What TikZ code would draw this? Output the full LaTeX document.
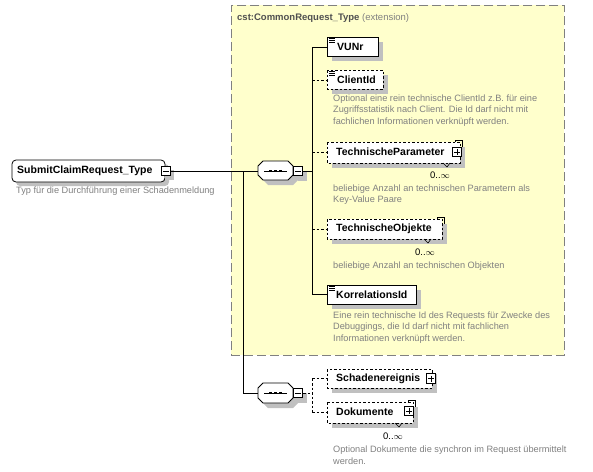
\documentclass[tikz,border=0pt]{standalone}
\usepackage{fontspec}
\setmainfont{Liberation Sans}
\usetikzlibrary{shadows,calc}
\definecolor{boxyellow}{RGB}{255,255,204}
\definecolor{descgray}{RGB}{128,128,128}
\definecolor{framegray}{RGB}{128,128,128}
\definecolor{shadowgray}{RGB}{192,192,192}
\tikzset{
  shd/.style={fill=shadowgray,draw=none},
  elem/.style={draw=black,fill=white,line width=0.8pt,inner sep=0pt},
  optelem/.style={elem,dashed,dash pattern=on 2.5pt off 2pt},
  lbl/.style={font=\fontsize{10.5}{12}\selectfont\bfseries,anchor=west,inner sep=0pt},
  desc/.style={font=\fontsize{9.2}{11.6}\selectfont,text=descgray,anchor=north west,align=left,inner sep=0pt},
  mult/.style={font=\fontsize{9.5}{11}\selectfont,inner sep=0pt},
  pm/.style={draw=black,fill=white,line width=0.8pt,minimum size=9.5pt,inner sep=0pt},
  conn/.style={line width=0.8pt},
  dconn/.style={line width=0.8pt,dash pattern=on 2.5pt off 2pt},
}
\newcommand{\pluss}[1]{\draw[line width=0.7pt] ($(#1)+(-3,0)$) -- ($(#1)+(3,0)$) ($(#1)+(0,-3)$) -- ($(#1)+(0,3)$);}
\begin{document}
\begin{tikzpicture}[x=1pt,y=-1pt]
\useasboundingbox (0,0) rectangle (593,471);
% extension frame
\node[draw=framegray,fill=boxyellow,line width=0.8pt,dash pattern=on 9pt off 4pt,minimum width=333pt,minimum height=350pt,anchor=north west,inner sep=0pt] (ext) at (231,5) {};
\node[anchor=west,inner sep=0pt,font=\fontsize{9.5}{11}\selectfont] (exttitle) at (237,18) {\textcolor[RGB]{80,80,80}{\bfseries cst:CommonRequest\_Type} \textcolor{descgray}{(extension)}};

% main node
\fill[shd,rounded corners=4pt] (16,164) rectangle (169,186);
\draw[fill=white,line width=0.8pt,rounded corners=4pt] (12,160) rectangle (165,182);
\node[lbl] (main) at (17,171) {SubmitClaimRequest\_Type};
\fill[shd] (165,170) rectangle (174,180);
\node[pm] (mminus) at (166,171) {};
\draw[line width=0.7pt] (163,171) -- (169,171);
\node[desc] (maindesc) at (16,187) {Typ für die Durchführung einer Schadenmeldung};

% sequence 1
\fill[shd] (268,166) -- (293,166) -- (298,171) -- (298,180) -- (293,185) -- (268,185) -- (263,180) -- (263,171) -- cycle;
\draw[fill=white,line width=0.8pt] (263,161) -- (288,161) -- (293,166) -- (293,175) -- (288,180) -- (263,180) -- (258,175) -- (258,166) -- cycle;
\coordinate (seq1) at (258,171);
\draw[line width=0.9pt] (264,171) -- (287,171);
\foreach \dx in {270.5,275.5,280.5} {\fill (\dx-1.3,169.7) rectangle (\dx+1.3,172.3);}
\fill[shd] (298,171) rectangle (307,181);
\node[pm] (s1minus) at (298,171) {};
\draw[line width=0.7pt] (295,171) -- (301,171);

% sequence 2
\fill[shd] (268,388) -- (293,388) -- (298,393) -- (298,403) -- (293,408) -- (268,408) -- (263,403) -- (263,393) -- cycle;
\draw[fill=white,line width=0.8pt] (263,383) -- (288,383) -- (293,388) -- (293,398) -- (288,403) -- (263,403) -- (258,398) -- (258,388) -- cycle;
\coordinate (seq2) at (258,393);
\draw[line width=0.9pt] (264,393) -- (287,393);
\foreach \dx in {270.5,275.5,280.5} {\fill (\dx-1.3,391.7) rectangle (\dx+1.3,394.3);}
\fill[shd] (298,393) rectangle (307,403);
\node[pm] (s2minus) at (298,393) {};
\draw[line width=0.7pt] (295,393) -- (301,393);

% connectors from main
\coordinate (j1) at (243,171);
\coordinate (b1) at (312,171);
\coordinate (b2) at (312,393);
\draw[conn] (mminus.east) -- (seq1);
\draw[conn] (j1) |- (seq2);
\draw[conn] (s1minus.east) -- (b1);
\draw[dconn] (s2minus.east) -- (b2);

% ---- elements ----
% VUNr
\fill[shd] (332,42) rectangle (383,61);
\draw[elem] (327,37) rectangle (378,56);
\node[lbl] (vunr) at (337,47) {VUNr};
\coordinate (vunrW) at (327,47);
\foreach \yy in {38.5,40.5,42.5} \draw[line width=0.6pt] (329,\yy) -- (335,\yy);

% ClientId
\fill[shd] (332,75) rectangle (388,94);
\draw[optelem] (327,70) rectangle (383,89);
\node[lbl] (clientid) at (337,80) {ClientId};
\coordinate (clientidW) at (327,80);
\foreach \yy in {71.5,73.5,75.5} \draw[line width=0.6pt] (329,\yy) -- (335,\yy);
\node[desc] (clientdesc) at (333,94.5) {Optional eine rein technische ClientId z.B. für eine\\Zugriffsstatistik nach Client. Die Id darf nicht mit\\fachlichen Informationen verknüpft werden.};

% TechnischeParameter
\fill[shd] (332,147) rectangle (465,168);
\draw[optelem] (327,142) rectangle (460,163);
\draw[line width=0.6pt] (455,142) -- (455,140) -- (462,140) -- (462,147);
\node[lbl] (techparam) at (336,152) {TechnischeParameter};
\coordinate (techparamW) at (327,152);
\node[pm] (tpplus) at (457,152) {};
\pluss{tpplus}
\draw[line width=0.6pt] (443,163) -- (447,167) -- (450,163);
\node[mult] (tpmult) at (440,175) {0..$\infty$};
\node[desc] (tpdesc) at (333,184.5) {beliebige Anzahl an technischen Parametern als\\Key-Value Paare};

% TechnischeObjekte
\fill[shd] (332,224) rectangle (447,244);
\draw[optelem] (327,219) rectangle (442,239);
\draw[line width=0.6pt] (437,219) -- (437,217) -- (444,217) -- (444,224);
\node[lbl] (techobj) at (336,229) {TechnischeObjekte};
\coordinate (techobjW) at (327,229);
\draw[line width=0.6pt] (424,239) -- (428,243) -- (431,239);
\node[mult] (tomult) at (425,252) {0..$\infty$};
\node[desc] (todesc) at (333,261.5) {beliebige Anzahl an technischen Objekten};

% KorrelationsId
\fill[shd] (332,290) rectangle (421,309);
\draw[elem] (327,285) rectangle (416,304);
\node[lbl] (korr) at (336,294.5) {KorrelationsId};
\coordinate (korrW) at (327,294.5);
\foreach \yy in {286.5,288.5,290.5} \draw[line width=0.6pt] (329,\yy) -- (335,\yy);
\node[desc] (korrdesc) at (333,311.5) {Eine rein technische Id des Requests für Zwecke des\\Debuggings, die Id darf nicht mit fachlichen\\Informationen verknüpft werden.};

% Schadenereignis
\fill[shd] (332,374) rectangle (437,393);
\draw[optelem] (327,369) rectangle (432,388);
\node[lbl] (schaden) at (336,378.5) {Schadenereignis};
\coordinate (schadenW) at (327,378.5);
\node[pm] (scplus) at (431,378.5) {};
\pluss{scplus}

% Dokumente
\fill[shd] (332,407) rectangle (418,428);
\draw[optelem] (327,402) rectangle (413,423);
\draw[line width=0.6pt] (408,402) -- (408,400) -- (415,400) -- (415,407);
\node[lbl] (doku) at (336,412) {Dokumente};
\coordinate (dokuW) at (327,412);
\node[pm] (dkplus) at (409,411) {};
\pluss{dkplus}
\draw[line width=0.6pt] (395,423) -- (399,427) -- (402,423);
\node[mult] (dkmult) at (393,436) {0..$\infty$};
\node[desc] (dkdesc) at (333,446) {Optional Dokumente die synchron im Request übermittelt\\werden.};

% connectors to elements
\draw[conn] (vunrW -| b1) -- (korrW -| b1);
\draw[conn] (vunrW -| b1) -- (vunrW);
\draw[dconn] (clientidW -| b1) -- (clientidW);
\draw[dconn] (techparamW -| b1) -- (techparamW);
\draw[dconn] (techobjW -| b1) -- (techobjW);
\draw[conn] (korrW -| b1) -- (korrW);
\draw[dconn] (schadenW -| b2) -- (dokuW -| b2);
\draw[dconn] (schadenW -| b2) -- (schadenW);
\draw[dconn] (dokuW -| b2) -- (dokuW);
\end{tikzpicture}
\end{document}
